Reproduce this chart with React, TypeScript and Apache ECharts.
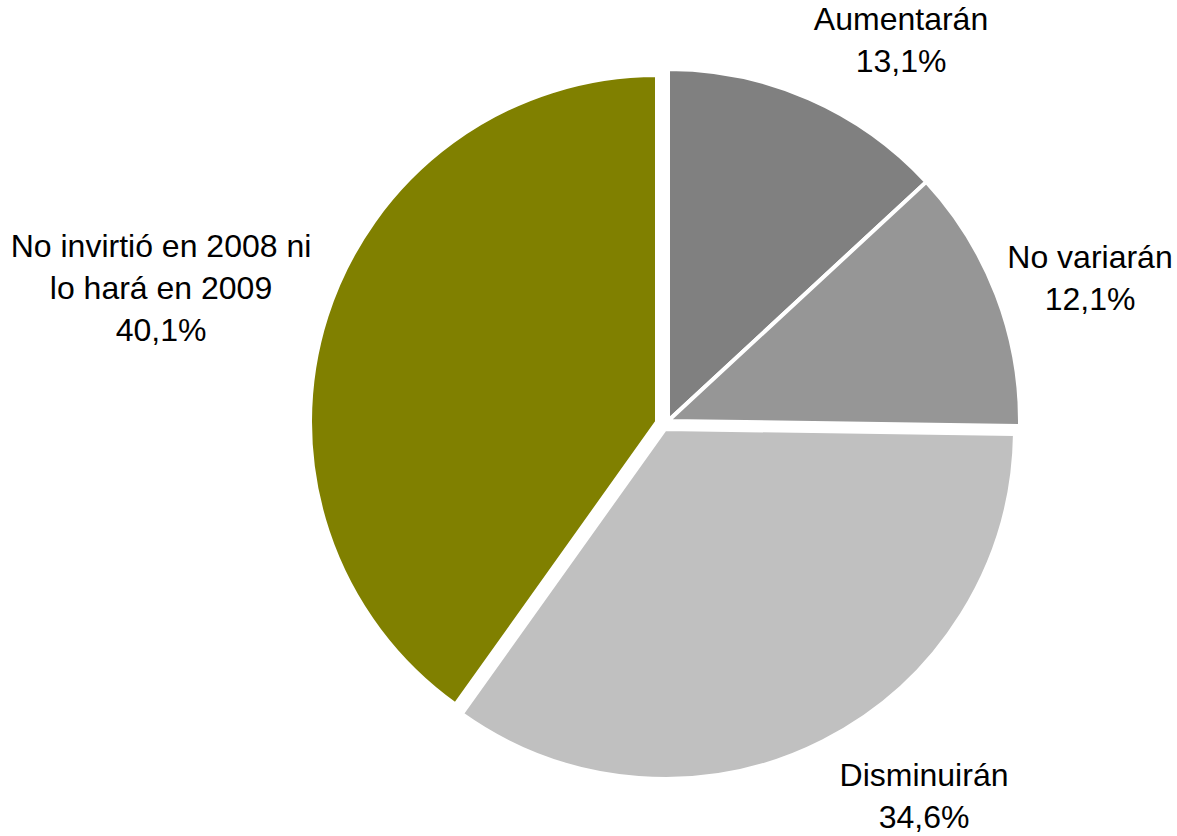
import React, { useEffect, useRef } from "react";
import * as echarts from "echarts";

const categories = ["Aumentarán", "No variarán", "Disminuirán", "No invirtió en 2008 ni\nlo hará en 2009"];
const values = [13.1, 12.1, 34.6, 40.1];
const colors = ["#808080", "#969696", "#C0C0C0", "#808000"];

// per-slice layout (exploded look)
const centers: [number, number][] = [
  [668, 421],
  [668, 421],
  [665, 429],
  [657, 422],
];
const radii = [352, 352, 350, 347];
const labelPos: [number, number][] = [
  [901, 40],
  [1090, 278],
  [924, 796],
  [161, 288],
];

export default function App() {
  const ref = useRef<HTMLDivElement>(null);
  useEffect(() => {
    if (!ref.current) return;
    const chart = echarts.init(ref.current, undefined, { renderer: "svg" });
    const series = values.map((_, i) => ({
      type: "pie",
      center: centers[i],
      radius: radii[i],
      startAngle: 90,
      clockwise: true,
      silent: true,
      avoidLabelOverlap: false,
      labelLine: { show: false },
      labelLayout: (params: any) => ({
        x: labelPos[params.dataIndex][0],
        y: labelPos[params.dataIndex][1],
        align: "center",
        verticalAlign: "middle",
      }),
      data: values.map((v, j) => ({
        name: categories[j],
        value: v,
        itemStyle:
          j === i
            ? { color: colors[j], borderColor: "#ffffff", borderWidth: 4 }
            : { color: "rgba(0,0,0,0)", borderWidth: 0 },
        label:
          j === i
            ? {
                show: true,
                position: "outside",
                formatter: (p: any) => `${p.name}\n${p.value.toFixed(1).replace(".", ",")}%`,
                fontFamily: "'Liberation Sans', Arial, sans-serif",
                fontSize: 32,
                lineHeight: 42,
                color: "#000000",
                align: "center",
              }
            : { show: false },
      })),
    }));
    chart.setOption({
      animation: false,
      backgroundColor: "#ffffff",
      series,
    });
    return () => chart.dispose();
  }, []);
  return (
    <div
      ref={ref}
      style={{ position: "fixed", left: 0, top: 0, width: 1177, height: 836, background: "#fff" }}
    />
  );
}
